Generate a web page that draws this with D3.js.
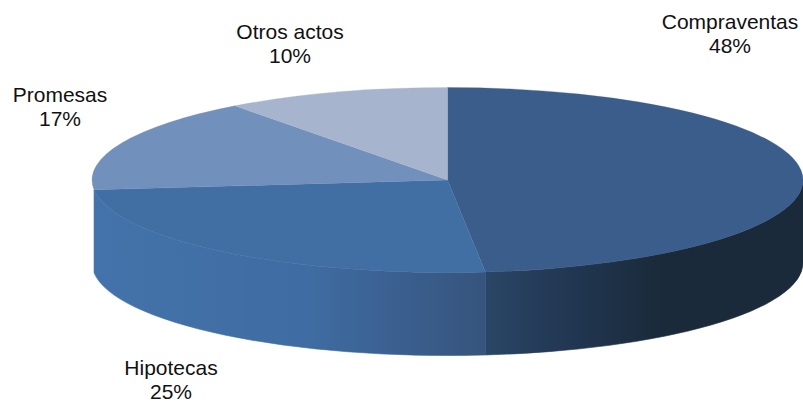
<!DOCTYPE html>
<html>
<head>
<meta charset="utf-8">
<script src="https://d3js.org/d3.v7.min.js"></script>
<style>
body { margin: 0; background: #fff; }
text { font: 21px "Liberation Sans", Arial, sans-serif; fill: #111; text-anchor: middle; }
</style>
</head>
<body>
<script>
var categories = ["Compraventas", "Hipotecas", "Promesas", "Otros actos"];
var values = [48.3, 25, 16.5, 10.2];
var topColors = ["#3a5d8c", "#426fa3", "#7290bc", "#a6b5cd"];
var leftWallColors = ["#4373aa", "#3f6ca2", "#36547d"];
var rightWallColors = ["#2a4566", "#20354f", "#1a2a3a"];

var width = 803, height = 403,
    cx = 447.5, cy = 180,
    rx = 355.5, ry = 92.5,
    depth = 83;

var svg = d3.select("body").append("svg")
    .attr("width", width)
    .attr("height", height);

var pie = d3.pie().sort(null)(values);

// angle 0 is at the top, going clockwise
function px(a) { return cx + rx * Math.sin(a); }
function py(a) { return cy - ry * Math.cos(a); }

function addGradient(id, colors, x1, x2) {
  var g = svg.append("defs").append("linearGradient")
      .attr("id", id)
      .attr("gradientUnits", "userSpaceOnUse")
      .attr("x1", x1).attr("x2", x2)
      .attr("y1", 0).attr("y2", 0);
  g.selectAll("stop").data(colors).enter().append("stop")
      .attr("offset", function(d, i) { return [0, 0.55, 1][i]; })
      .attr("stop-color", function(d) { return d; });
}
addGradient("wallLeft", leftWallColors, cx - rx, px(pie[0].endAngle));
addGradient("wallRight", rightWallColors, px(pie[0].endAngle), cx + rx * 0.6);

function wall(a0, a1) {
  return "M" + px(a0) + "," + py(a0)
    + "A" + rx + "," + ry + " 0 0 1 " + px(a1) + "," + py(a1)
    + "L" + px(a1) + "," + (py(a1) + depth)
    + "A" + rx + "," + ry + " 0 0 0 " + px(a0) + "," + (py(a0) + depth)
    + "Z";
}

// only the front half of the ellipse shows a wall
svg.append("path")
    .attr("d", wall(Math.PI / 2, pie[0].endAngle))
    .attr("fill", "url(#wallRight)")
    .attr("stroke", "url(#wallRight)")
    .attr("stroke-width", 0.6);
svg.append("path")
    .attr("d", wall(pie[0].endAngle, pie[1].endAngle))
    .attr("fill", "url(#wallLeft)")
    .attr("stroke", "url(#wallLeft)")
    .attr("stroke-width", 0.6);

var arc = d3.arc().innerRadius(0).outerRadius(rx);

svg.append("g")
    .attr("transform", "translate(" + cx + "," + cy + ") scale(1," + (ry / rx) + ")")
  .selectAll("path")
    .data(pie)
  .enter().append("path")
    .attr("d", arc)
    .attr("fill", function(d, i) { return topColors[i]; })
    .attr("stroke", function(d, i) { return topColors[i]; })
    .attr("stroke-width", 0.5);

var labelPos = [[730, 29], [171, 375], [60, 102], [290, 39]];
var labels = svg.selectAll("text.label")
    .data(pie)
  .enter().append("text")
    .attr("class", "label")
    .attr("x", function(d, i) { return labelPos[i][0]; })
    .attr("y", function(d, i) { return labelPos[i][1]; });
labels.append("tspan").text(function(d, i) { return categories[i]; });
labels.append("tspan")
    .attr("x", function(d, i) { return labelPos[i][0]; })
    .attr("dy", 24)
    .text(function(d) { return Math.round(d.value) + "%"; });
</script>
</body>
</html>
